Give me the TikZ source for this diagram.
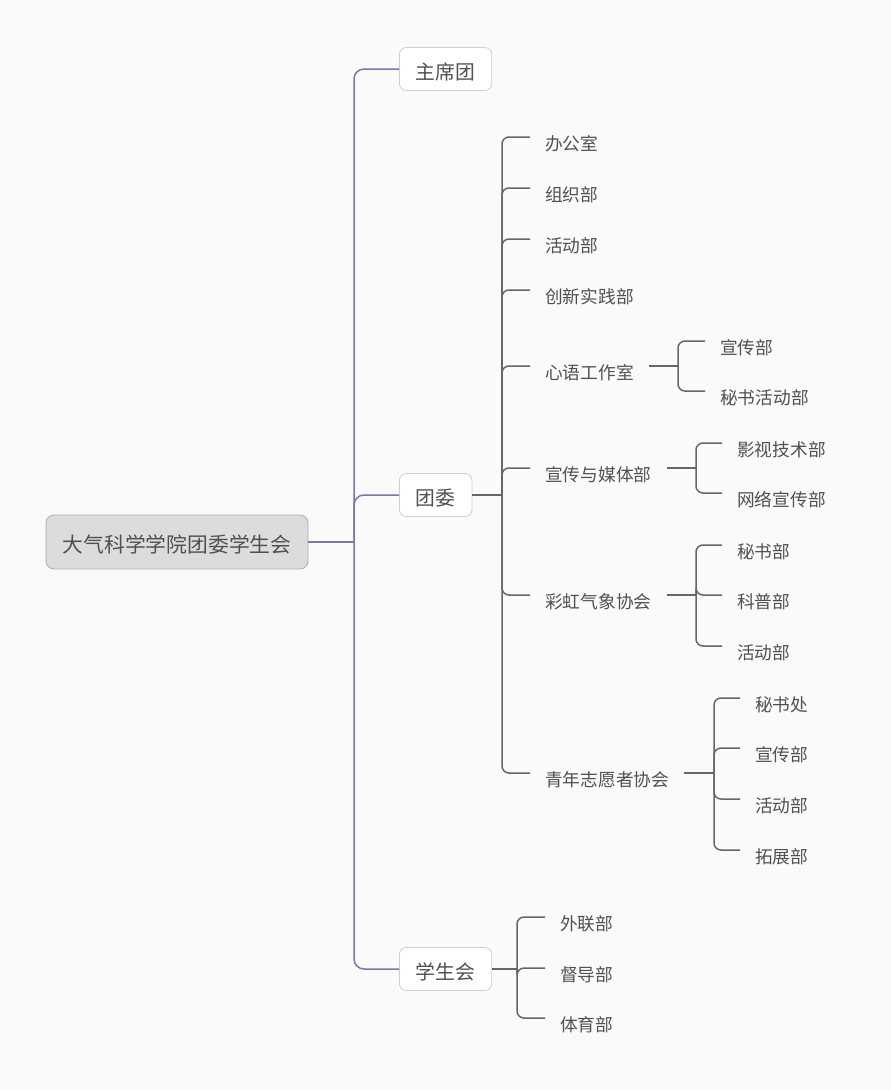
\documentclass[tikz,border=0pt]{standalone}
\usepackage{fontspec}
\newfontfamily\cjk{Noto Sans CJK SC}
\usetikzlibrary{calc}
\definecolor{bgc}{HTML}{FAFAFA}
\definecolor{txtc}{HTML}{505050}
\definecolor{mainc}{HTML}{7E75AB}
\definecolor{subc}{HTML}{666666}
\definecolor{rootfill}{HTML}{DCDCDC}
\definecolor{rootline}{HTML}{ADADAD}
\definecolor{boxline}{HTML}{CFCFCF}
\tikzset{
  rootbox/.style={draw=rootline, fill=rootfill, rounded corners=8pt, line width=0.8pt, minimum height=54pt, minimum width=262pt, inner sep=0pt, text height=21.8pt, text depth=0pt, text=txtc, font=\cjk\fontsize{20.8}{24}\selectfont},
  topicbox/.style={draw=boxline, fill=white, rounded corners=7pt, line width=0.8pt, minimum height=43pt, inner xsep=16.5pt, text height=21pt, text depth=0pt, anchor=west, text=txtc, font=\cjk\fontsize{19.8}{22}\selectfont},
  leaf/.style={anchor=west, inner xsep=15pt, inner ysep=0pt, text=txtc, font=\cjk\fontsize{17.7}{20}\selectfont},
  mainline/.style={draw=mainc, line width=1.5pt, rounded corners=10pt},
  subline/.style={draw=subc, line width=1.5pt, rounded corners=7pt}
}
\begin{document}
\begin{tikzpicture}[x=1pt, y=-1pt]
  \fill[bgc] (0,0) rectangle (891,1090);
  % root and first level
  \node[rootbox] (root) at (177,542) {大气科学学院团委学生会};
  \node[topicbox] (zxt) at (399,69) {主席团};
  \node[topicbox] (tw) at (399,495) {团委};
  \node[topicbox] (xsh) at (399,969) {学生会};
  \coordinate (rootj) at (354,542);
  \draw[mainline] (root.east) -- (rootj);
  \foreach \n in {zxt, tw, xsh}
    \draw[mainline] (rootj) |- (\n.west);
  % 团委
  \node[leaf] (bgs) at (530,144) {办公室};
  \node[leaf] (zzb) at (530,195) {组织部};
  \node[leaf] (hdb) at (530,246) {活动部};
  \node[leaf] (cxsj) at (530,297) {创新实践部};
  \node[leaf] (xygzs) at (530,373) {心语工作室};
  \node[leaf] (xcmt) at (530,475) {宣传与媒体部};
  \node[leaf] (chqx) at (530,602) {彩虹气象协会};
  \node[leaf] (qnzy) at (530,780) {青年志愿者协会};
  \coordinate (twj) at (502,495);
  \draw[subline] (tw.east) -- (twj);
  \foreach \n in {bgs, zzb, hdb, cxsj, xygzs, xcmt, chqx, qnzy}
    \draw[subline] (twj) |- ($(\n.west)+(0,-7)$);
  % 心语工作室
  \node[leaf] (xy1) at (705,348) {宣传部};
  \node[leaf] (xy2) at (705,398) {秘书活动部};
  \coordinate (xyj) at (678,366);
  \draw[subline] (xygzs.east |- xyj) -- (xyj);
  \foreach \n in {xy1, xy2}
    \draw[subline] (xyj) |- ($(\n.west)+(0,-7)$);
  % 宣传与媒体部
  \node[leaf] (mt1) at (722,450) {影视技术部};
  \node[leaf] (mt2) at (722,500) {网络宣传部};
  \coordinate (mtj) at (696,468);
  \draw[subline] (xcmt.east |- mtj) -- (mtj);
  \foreach \n in {mt1, mt2}
    \draw[subline] (mtj) |- ($(\n.west)+(0,-7)$);
  % 彩虹气象协会
  \node[leaf] (ch1) at (722,552) {秘书部};
  \node[leaf] (ch2) at (722,602) {科普部};
  \node[leaf] (ch3) at (722,653) {活动部};
  \coordinate (chj) at (696,595);
  \draw[subline] (chqx.east |- chj) -- (chj);
  \foreach \n in {ch1, ch2, ch3}
    \draw[subline] (chj) |- ($(\n.west)+(0,-7)$);
  % 青年志愿者协会
  \node[leaf] (qn1) at (740,705) {秘书处};
  \node[leaf] (qn2) at (740,755) {宣传部};
  \node[leaf] (qn3) at (740,806) {活动部};
  \node[leaf] (qn4) at (740,857) {拓展部};
  \coordinate (qnj) at (714,773);
  \draw[subline] (qnzy.east |- qnj) -- (qnj);
  \foreach \n in {qn1, qn2, qn3, qn4}
    \draw[subline] (qnj) |- ($(\n.west)+(0,-7)$);
  % 学生会
  \node[leaf] (xs1) at (545,924) {外联部};
  \node[leaf] (xs2) at (545,975) {督导部};
  \node[leaf] (xs3) at (545,1025) {体育部};
  \coordinate (xshj) at (517,969);
  \draw[subline] (xsh.east) -- (xshj);
  \foreach \n in {xs1, xs2, xs3}
    \draw[subline] (xshj) |- ($(\n.west)+(0,-7)$);
\end{tikzpicture}
\end{document}
